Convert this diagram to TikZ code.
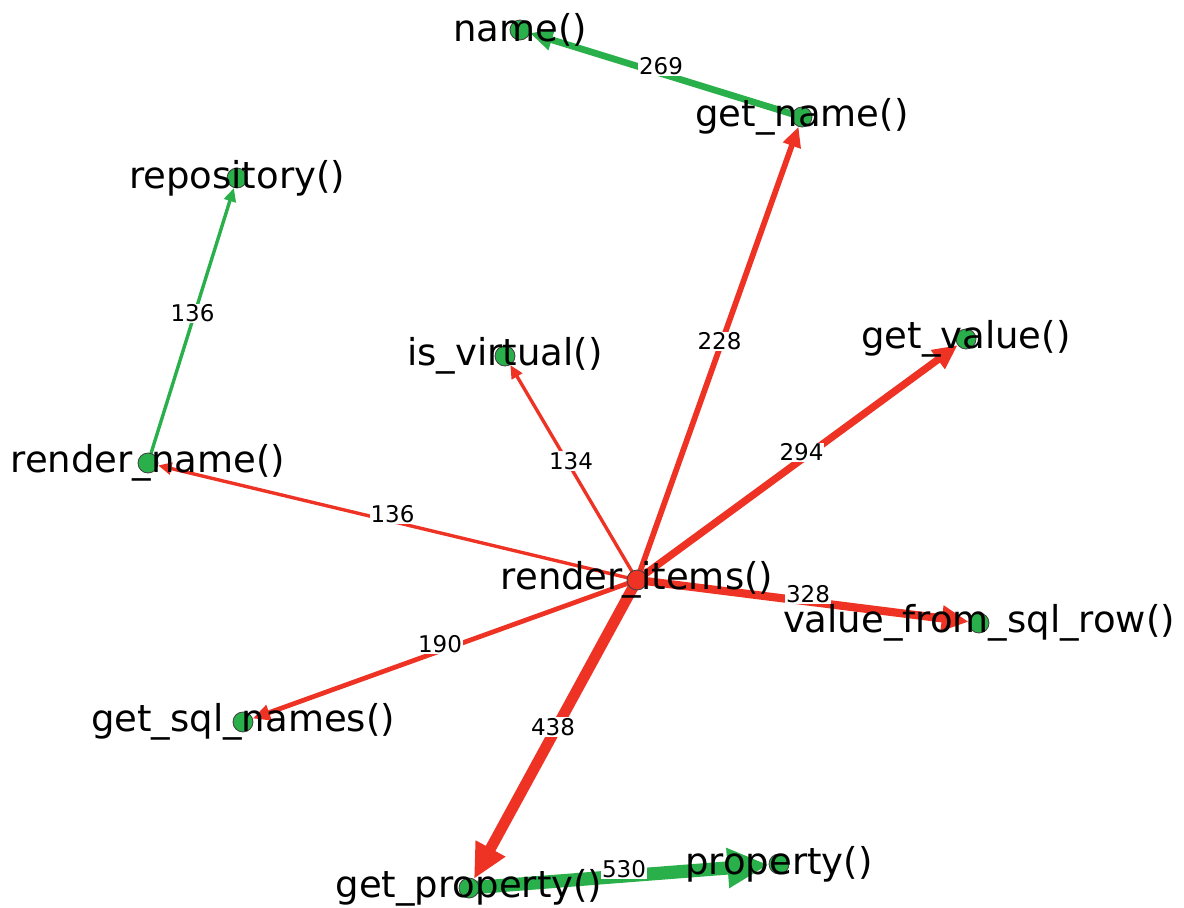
\documentclass[tikz,border=0pt]{standalone}
\usepackage{fontspec}
\setmainfont{DejaVu Sans}
\usetikzlibrary{arrows.meta}
\pgfdeclarelayer{edges}
\pgfdeclarelayer{elabels}
\pgfdeclarelayer{fg}
\pgfsetlayers{edges,elabels,main,fg}
\definecolor{ered}{RGB}{238,50,36}
\definecolor{egreen}{RGB}{42,176,74}
\begin{document}
\begin{tikzpicture}[x=1pt,y=-1pt,
  vtx/.style={circle,draw=black!75,line width=0.8pt,minimum size=20pt,inner sep=0pt},
  gv/.style={vtx,fill=egreen},
  rv/.style={vtx,fill=ered},
  lab/.style={font=\fontsize{37}{40}\selectfont,inner sep=0pt,anchor=center},
  elab/.style={font=\fontsize{23}{25}\selectfont,fill=white,inner sep=1pt,midway,yshift=7pt},
  ed/.style={line width=#1,-{Triangle[length=4pt 2.8,width=3pt 2.6]}},
  redge/.style={ed=#1,color=ered},
  gedge/.style={ed=#1,color=egreen}]
\useasboundingbox (0,0) rectangle (1184,908);
% vertices
\node[gv] (name) at (520,30) {};
\node[gv] (getname) at (802,117) {};
\node[gv] (repo) at (237,178) {};
\node[gv] (isvirt) at (505,356) {};
\node[gv] (getval) at (966,339) {};
\node[gv] (rname) at (148,463) {};
\node[rv] (ritems) at (637,580) {};
\node[gv] (vfsr) at (979,623) {};
\node[gv] (sqln) at (243,722) {};
\node[gv] (getprop) at (469,888) {};
\node[gv] (prop) at (779,864) {};
% edges
\begin{pgfonlayer}{edges}
\draw[gedge=6.7] (getname.center) -- (name);
\draw[gedge=3.4] (rname.center) -- (repo);
\draw[redge=5.7] (ritems.center) -- (getname);
\draw[redge=3.35] (ritems.center) -- (isvirt);
\draw[redge=7.35] (ritems.center) -- (getval);
\draw[redge=3.4] (ritems.center) -- (rname);
\draw[redge=8.2] (ritems.center) -- (vfsr);
\draw[redge=4.75] (ritems.center) -- (sqln);
\draw[redge=10.95] (ritems.center) -- (getprop);
\draw[gedge=13.25] (getprop.center) -- (prop);
\end{pgfonlayer}
% edge labels
\begin{pgfonlayer}{elabels}
\path (getname.center) -- (name.center) node[elab] (l1) {269};
\path (rname.center) -- (repo.center) node[elab] (l2) {136};
\path (ritems.center) -- (getname.center) node[elab] (l3) {228};
\path (ritems.center) -- (isvirt.center) node[elab] (l4) {134};
\path (ritems.center) -- (getval.center) node[elab] (l5) {294};
\path (ritems.center) -- (rname.center) node[elab] (l6) {136};
\path (ritems.center) -- (vfsr.center) node[elab] (l7) {328};
\path (ritems.center) -- (sqln.center) node[elab] (l8) {190};
\path (ritems.center) -- (getprop.center) node[elab] (l9) {438};
\path (getprop.center) -- (prop.center) node[elab] (l10) {530};
\end{pgfonlayer}
% vertex labels
\begin{pgfonlayer}{fg}
\node[lab] (tname) at (name) {name()};
\node[lab] (tgetname) at (getname) {get\_name()};
\node[lab] (trepo) at (repo) {repository()};
\node[lab] (tisvirt) at (isvirt) {is\_virtual()};
\node[lab] (tgetval) at (getval) {get\_value()};
\node[lab] (trname) at (rname) {render\_name()};
\node[lab] (tritems) at (ritems) {render\_items()};
\node[lab] (tvfsr) at (vfsr) {value\_from\_sql\_row()};
\node[lab] (tsqln) at (sqln) {get\_sql\_names()};
\node[lab] (tgetprop) at (getprop) {get\_property()};
\node[lab] (tprop) at (prop) {property()};
\end{pgfonlayer}
\end{tikzpicture}
\end{document}
